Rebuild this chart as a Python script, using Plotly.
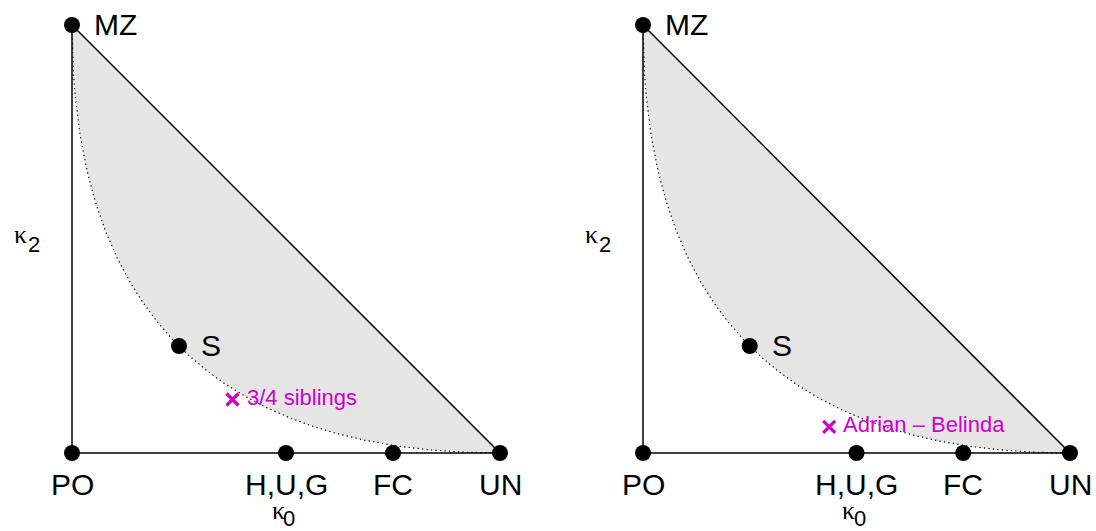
import numpy as np
import plotly.graph_objects as go

# Standard relationships (kappa0, kappa2)
rel_names = ["PO", "H,U,G", "FC", "UN", "MZ", "S"]
rel_k0 = [0.0, 0.5, 0.75, 1.0, 0.0, 0.25]
rel_k2 = [0.0, 0.0, 0.0, 0.0, 1.0, 0.25]

# Highlighted pairs (one per panel)
pair_names = ["3/4 siblings", "Adrian \u2013 Belinda"]
pair_k0 = [0.375, 0.436]
pair_k2 = [0.125, 0.061]

# Feasible-region boundary 4*k0*k2 = k1^2  ->  k2 = (1 - sqrt(k0))^2
t = np.linspace(0, 1, 300)
curve_k0 = t
curve_k2 = (1 - np.sqrt(t)) ** 2

BLACK = "black"
MAG = "#CD00CD"
SANS = "Liberation Sans, Arial, sans-serif"
SERIF = "Liberation Serif, Times New Roman, serif"

W, H = 1096, 531
PAD = 0.05
panels_px = [(72, 500), (643, 1070)]
y0px, y1px = 453, 25

def xdom(a, b):
    u = b - a
    return [(a - PAD * u) / W, (b + PAD * u) / W]

u_y = y0px - y1px
ydom = [(H - (y0px + PAD * u_y)) / H, (H - (y1px - PAD * u_y)) / H]

fig = go.Figure()
annotations = []

for i in range(2):
    xa = "x" if i == 0 else "x2"
    ya = "y" if i == 0 else "y2"
    fig.add_trace(go.Scatter(
        x=list(curve_k0) + [1.0, 0.0], y=list(curve_k2) + [0.0, 1.0],
        fill="toself", fillcolor="#E5E5E5", mode="none",
        xaxis=xa, yaxis=ya, showlegend=False, hoverinfo="skip"))
    fig.add_trace(go.Scatter(
        x=curve_k0, y=curve_k2, mode="lines",
        line=dict(color=BLACK, width=1.2, dash="1.3px,3.2px"),
        xaxis=xa, yaxis=ya, showlegend=False, hoverinfo="skip"))
    fig.add_trace(go.Scatter(
        x=[0, 1, 0, 0], y=[0, 0, 1, 0], mode="lines",
        line=dict(color=BLACK, width=1.5),
        xaxis=xa, yaxis=ya, showlegend=False, hoverinfo="skip"))
    fig.add_trace(go.Scatter(
        x=rel_k0, y=rel_k2, mode="markers",
        marker=dict(color=BLACK, size=16),
        xaxis=xa, yaxis=ya, showlegend=False, cliponaxis=False, text=rel_names))
    fig.add_trace(go.Scatter(
        x=[pair_k0[i]], y=[pair_k2[i]], mode="markers",
        marker=dict(symbol="x-thin-open", size=12, color=MAG, line=dict(color=MAG, width=3.2)),
        xaxis=xa, yaxis=ya, showlegend=False, cliponaxis=False))

    for n, k0, k2 in zip(rel_names, rel_k0, rel_k2):
        if n in ("MZ", "S"):
            annotations.append(dict(x=k0, y=k2, xref=xa, yref=ya, text=n, showarrow=False,
                                    xanchor="left", yanchor="middle", xshift=20, yshift=1,
                                    font=dict(family=SANS, size=30, color=BLACK)))
        else:
            annotations.append(dict(x=k0, y=k2, xref=xa, yref=ya, text=n, showarrow=False,
                                    xanchor="center", yanchor="middle", yshift=-31,
                                    font=dict(family=SANS, size=30, color=BLACK)))
    annotations.append(dict(x=pair_k0[i], y=pair_k2[i], xref=xa, yref=ya, text=pair_names[i],
                            showarrow=False, xanchor="left", yanchor="middle", xshift=12, yshift=2,
                            font=dict(family=SANS, size=22, color=MAG)))
    # axis labels: kappa0 below, kappa2 on the left
    annotations.append(dict(x=0.5, y=0, xref=xa, yref=ya, text="\u03ba", showarrow=False,
                            xanchor="center", yanchor="middle", xshift=-8, yshift=-57,
                            font=dict(family=SERIF, size=26, color=BLACK)))
    annotations.append(dict(x=0.5, y=0, xref=xa, yref=ya, text="0", showarrow=False,
                            xanchor="center", yanchor="middle", xshift=3, yshift=-65,
                            font=dict(family=SANS, size=22, color=BLACK)))
    annotations.append(dict(x=0, y=0.5, xref=xa, yref=ya, text="\u03ba", showarrow=False,
                            xanchor="center", yanchor="middle", xshift=-52, yshift=5,
                            font=dict(family=SERIF, size=26, color=BLACK)))
    annotations.append(dict(x=0, y=0.5, xref=xa, yref=ya, text="2", showarrow=False,
                            xanchor="center", yanchor="middle", xshift=-38, yshift=-5,
                            font=dict(family=SANS, size=22, color=BLACK)))

axis_common = dict(range=[-PAD, 1 + PAD], showgrid=False, zeroline=False, showticklabels=False,
                   showline=False, ticks="", fixedrange=True)

fig.update_layout(
    width=W, height=H,
    margin=dict(l=0, r=0, t=0, b=0),
    paper_bgcolor="white", plot_bgcolor="white",
    xaxis=dict(domain=xdom(*panels_px[0]), anchor="y", **axis_common),
    yaxis=dict(domain=ydom, anchor="x", **axis_common),
    xaxis2=dict(domain=xdom(*panels_px[1]), anchor="y2", **axis_common),
    yaxis2=dict(domain=ydom, anchor="x2", **axis_common),
    annotations=annotations,
    showlegend=False,
)

fig.write_html("out.html", config={"displayModeBar": False},
               post_script="document.body.style.margin='0';")
